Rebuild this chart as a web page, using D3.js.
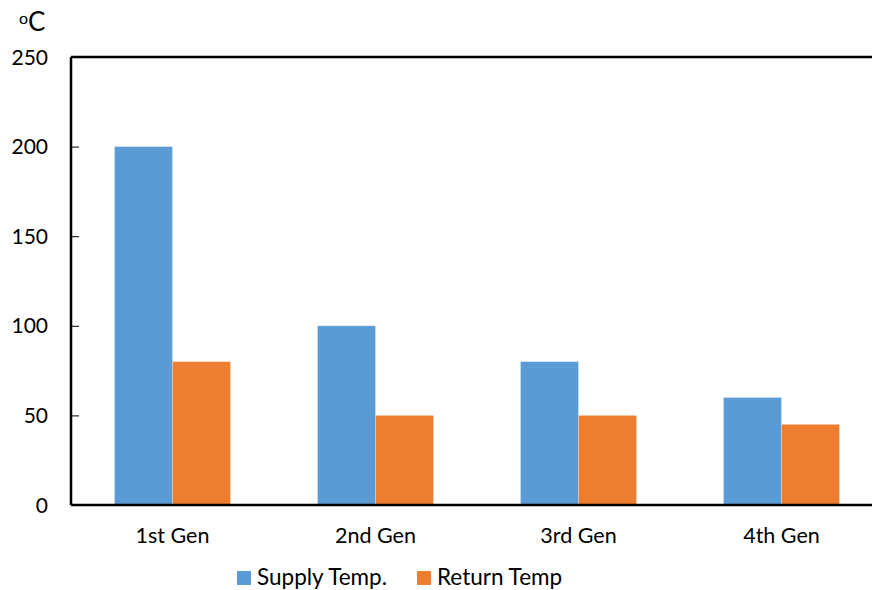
<!DOCTYPE html>
<html>
<head>
<meta charset="utf-8">
<script src="https://cdn.jsdelivr.net/npm/d3@7"></script>
<style>
  body { margin: 0; background: #fff; }
  svg { display: block; font-family: Lato, "Noto Sans", sans-serif; }
</style>
</head>
<body>
<svg id="chart" width="872" height="590"></svg>
<script>
// Network temperatures by district heating generation
const categories = ["1st Gen", "2nd Gen", "3rd Gen", "4th Gen"];
const seriesNames = ["Supply Temp.", "Return Temp"];
const supplyTemp = [200, 100, 80, 60];
const returnTemp = [80, 50, 50, 45];
const yTicks = [0, 50, 100, 150, 200, 250];
const colors = ["#5B9BD5", "#ED7D31"];

const svg = d3.select("#chart");
const plotLeft = 71, plotRight = 883, plotTop = 57, plotBottom = 505;

const x = d3.scaleBand().domain(categories).range([plotLeft, plotRight]).paddingInner(0).paddingOuter(0);
const x1 = d3.scaleBand().domain(seriesNames).range([0, x.bandwidth()]).paddingInner(0).paddingOuter(0.75);
const y = d3.scaleLinear().domain([0, 250]).range([plotBottom, plotTop]);

const seriesValues = [supplyTemp, returnTemp];
const rows = categories.map((c, i) => ({ c, vals: seriesNames.map((s, j) => ({ s, j, v: seriesValues[j][i] })) }));

// bars
const g = svg.append("g");
g.selectAll("g.cat").data(rows).join("g")
  .attr("class", "cat")
  .attr("transform", d => `translate(${x(d.c)},0)`)
  .selectAll("rect").data(d => d.vals).join("rect")
  .attr("x", d => x1(d.s))
  .attr("width", x1.bandwidth())
  .attr("y", d => y(d.v))
  .attr("height", d => y(0) - y(d.v))
  .attr("fill", d => colors[d.j])
  .attr("stroke", "#fff").attr("stroke-opacity", 0.35).attr("stroke-width", 0.75);

// frame: top and bottom lines
svg.append("line").attr("x1", plotLeft).attr("x2", 872).attr("y1", plotTop).attr("y2", plotTop)
  .attr("stroke", "#000").attr("stroke-width", 2.5);
svg.append("line").attr("x1", plotLeft).attr("x2", 872).attr("y1", plotBottom).attr("y2", plotBottom)
  .attr("stroke", "#000").attr("stroke-width", 2.5);

// y axis with inward ticks
const yAxis = d3.axisRight(y).tickValues(yTicks).tickSize(8).tickFormat("");
const ya = svg.append("g").attr("transform", `translate(${plotLeft},0)`).call(yAxis);
ya.select(".domain").attr("stroke", "#000").attr("stroke-width", 2.5).attr("d", `M0,${plotTop}V${plotBottom}`);
ya.selectAll(".tick line").attr("stroke", "#000").attr("stroke-width", 1);

svg.append("g").selectAll("text").data(yTicks).join("text")
  .attr("x", 48).attr("y", d => y(d)).attr("dy", "0.36em")
  .attr("text-anchor", "end").attr("font-size", 21).attr("fill", "#000")
  .text(d => d);

// category labels
svg.append("g").selectAll("text").data(categories).join("text")
  .attr("x", d => x(d) + x.bandwidth() / 2).attr("y", 543)
  .attr("text-anchor", "middle").attr("font-size", 21.5).attr("fill", "#000")
  .text(d => d);

// unit label
const unit = svg.append("text").attr("x", 19).attr("y", 31).attr("font-size", 26).attr("fill", "#000");
unit.append("tspan").attr("font-size", 16).attr("dy", -7).text("o");
unit.append("tspan").attr("dy", 7).text("C");

// legend
const legendX = [237, 417];
const lg = svg.append("g").selectAll("g").data(seriesNames).join("g")
  .attr("transform", (d, i) => `translate(${legendX[i]},571)`);
lg.append("rect").attr("width", 14).attr("height", 14).attr("fill", (d, i) => colors[i]);
lg.append("text").attr("x", 20).attr("y", 14).attr("font-size", 22.5).attr("fill", "#000").text(d => d);
</script>
</body>
</html>
